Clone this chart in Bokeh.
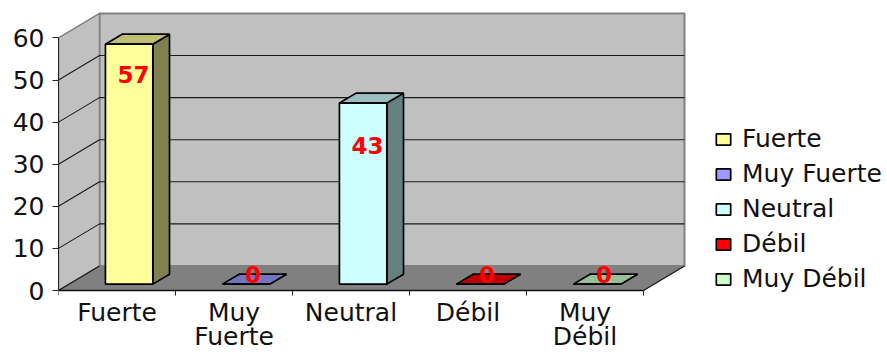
from bokeh.embed import file_html
from bokeh.resources import INLINE
from bokeh.plotting import figure
from bokeh.models import FixedTicker, Legend, LegendItem, Range1d, ColumnDataSource
from bokeh.core.properties import value

categories = ["Fuerte", "Muy\nFuerte", "Neutral", "Débil", "Muy\nDébil"]
legend_labels = ["Fuerte", "Muy Fuerte", "Neutral", "Débil", "Muy Débil"]
values = [57, 0, 43, 0, 0]
y_ticks = [0, 10, 20, 30, 40, 50, 60]

front_colors = ["#FFFF99", "#9999FF", "#CCFFFF", "#FF0000", "#CCFFCC"]
top_colors = ["#BFBF73", "#7373BF", "#99BFBF", "#BF0000", "#99BF99"]
side_colors = ["#808050", "#505080", "#668080", "#800000", "#668066"]

# Pixel nudges of the value labels relative to the top centre of each bar
label_dx = [4.5, 7, 4.5, 7, 7]
label_dy = [30, -10, 42.5, -10, -10]

FONT = "DejaVu Sans"
LABEL_SIZE = "25px"

# Oblique projection: depth 0 is the front plane, depth 1 the back wall
DEPTH_X = 41 / 117
DEPTH_Y = 24.5 / 4.21
BAR_LEFT, BAR_RIGHT = 0.31, 0.715
BAR_NEAR, BAR_FAR = 0.26, 0.667


def proj(x, v, d):
    return x + d * DEPTH_X, v + d * DEPTH_Y


def poly(*corners):
    pts = [proj(*c) for c in corners]
    return [p[0] for p in pts], [p[1] for p in pts]


n = len(categories)
top = y_ticks[-1]

# The frame fills the canvas below and to the right of the value axis, so the
# category axis can sit at value 0 with its two-line labels underneath
p = figure(
    width=887, height=352, output_backend="svg", toolbar_location=None,
    x_range=Range1d(0, 829 / 117), y_range=Range1d(-62 / 4.21, 290 / 4.21),
    min_border_left=58, min_border_right=0, min_border_top=0, min_border_bottom=0,
    background_fill_color="white", border_fill_color="white",
    outline_line_color=None,
)
p.grid.visible = False

# Walls and floor
xs, ys = poly((0, 0, 1), (n, 0, 1), (n, top, 1), (0, top, 1))
p.patch(xs, ys, fill_color="#C0C0C0", line_color="#808080", line_width=2)
xs, ys = poly((0, 0, 0), (0, 0, 1), (0, top, 1), (0, top, 0))
p.patch(xs, ys, fill_color="#C0C0C0", line_color="#808080", line_width=1.5)
xs, ys = poly((0, 0, 0), (n, 0, 0), (n, 0, 1), (0, 0, 1))
p.patch(xs, ys, fill_color="#808080", line_color="#808080", line_width=1)

# Gridlines across the left wall and the back wall
for t in y_ticks[1:-1]:
    gx, gy = poly((0, t, 0), (0, t, 1), (n, t, 1))
    p.line(gx, gy, line_color="#1A1A1A", line_width=1.1)
for a, b in [((0, 0, 0), (0, 0, 1)), ((n, 0, 0), (n, 0, 1))]:
    gx, gy = poly(a, b)
    p.line(gx, gy, line_color="#1A1A1A", line_width=1.1)

# Bars: side, top and front faces
items = []
for i, (v, label) in enumerate(zip(values, legend_labels)):
    x0, x1 = i + BAR_LEFT, i + BAR_RIGHT
    sx, sy = poly((x1, 0, BAR_NEAR), (x1, 0, BAR_FAR), (x1, v, BAR_FAR), (x1, v, BAR_NEAR))
    p.patch(sx, sy, fill_color=side_colors[i], line_color="black", line_width=1.7)
    tx, ty = poly((x0, v, BAR_NEAR), (x1, v, BAR_NEAR), (x1, v, BAR_FAR), (x0, v, BAR_FAR))
    p.patch(tx, ty, fill_color=top_colors[i], line_color="black", line_width=1.7)
    fx, fy = poly((x0, 0, BAR_NEAR), (x1, 0, BAR_NEAR), (x1, v, BAR_NEAR), (x0, v, BAR_NEAR))
    front = p.patch(fx, fy, fill_color=front_colors[i], line_color="black", line_width=1.7)
    items.append(LegendItem(label=label, renderers=[front]))

# Value labels
lx, ly = zip(*[proj(i + (BAR_LEFT + BAR_RIGHT) / 2, v, BAR_NEAR) for i, v in enumerate(values)])
source = ColumnDataSource(dict(
    x=list(lx), y=list(ly), text=[str(v) for v in values],
    dx=label_dx, dy=label_dy,
))
p.text("x", "y", text="text", source=source, x_offset="dx", y_offset="dy",
       text_color="#FF0000", text_font=value(FONT), text_font_style="bold",
       text_font_size="23px", text_align="center", text_baseline="middle")

# Value axis
p.yaxis.ticker = FixedTicker(ticks=y_ticks, minor_ticks=[])
p.yaxis.bounds = (0, top)
p.yaxis.axis_line_color = "#222222"
p.yaxis.major_tick_line_color = "#222222"
p.yaxis.major_tick_in = 0
p.yaxis.major_tick_out = 6
p.yaxis.major_label_standoff = 8
p.yaxis.major_label_text_font = FONT
p.yaxis.major_label_text_font_size = LABEL_SIZE
p.yaxis.major_label_text_color = "#111111"

# Category axis: boundaries carry the ticks, slot centres carry the labels
centers = [i + 0.5 for i in range(n)]
p.xaxis.fixed_location = 0
p.xaxis.ticker = FixedTicker(ticks=centers, minor_ticks=list(range(n + 1)))
p.xaxis.bounds = (0, n)
p.xaxis.major_label_overrides = {c: name for c, name in zip(centers, categories)}
p.xaxis.axis_line_color = "#111111"
p.xaxis.axis_line_width = 1.4
p.xaxis.major_tick_line_color = None
p.xaxis.minor_tick_line_color = "#222222"
p.xaxis.minor_tick_in = 0
p.xaxis.minor_tick_out = 5
p.xaxis.major_label_standoff = 1
p.xaxis.major_label_text_font = FONT
p.xaxis.major_label_text_font_size = LABEL_SIZE
p.xaxis.major_label_text_line_height = 0.85
p.xaxis.major_label_text_color = "#111111"

legend = Legend(
    items=items, location=(656, 59), orientation="vertical",
    background_fill_alpha=0, border_line_color=None,
    padding=0, margin=0, spacing=6, label_height=20, label_standoff=10,
    glyph_width=18, glyph_height=14,
    label_text_font=FONT, label_text_font_size=LABEL_SIZE, label_text_color="#111111",
)
p.add_layout(legend)

open("out.html", "w").write(file_html(p, INLINE))
